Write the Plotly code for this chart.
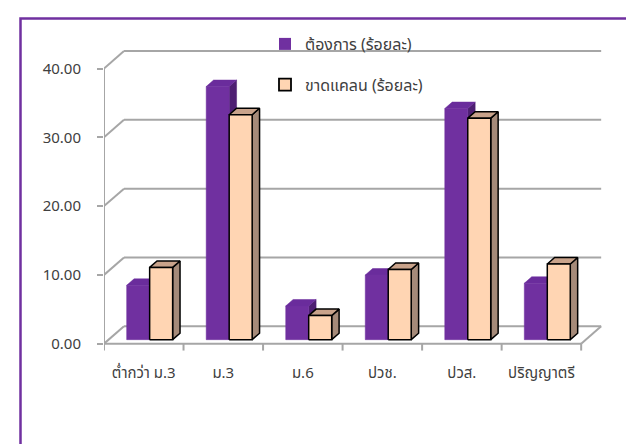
import plotly.graph_objects as go

# ---------------- data ----------------
categories = ["ต่ำกว่า ม.3", "ม.3", "ม.6", "ปวช.", "ปวส.", "ปริญญาตรี"]
want_pct = [7.9, 36.8, 4.9, 9.4, 33.6, 8.2]
short_pct = [10.5, 32.7, 3.5, 10.2, 32.2, 11.0]
series_names = ["ต้องการ (ร้อยละ)", "ขาดแคลน (ร้อยละ)"]
y_ticks = [0, 10, 20, 30, 40]
y_tick_labels = [f"{v:.2f}" for v in y_ticks]

# ---------------- style / geometry ----------------
W, H = 634, 444
ML, MR, MT, MB = 96, 33, 33, 98
PW, PH = W - ML - MR, H - MT - MB
XR = [0, 6.35]
YR = [-1.5, 44]
DX, DY = 0.2515, 2.54          # wall depth (axis units)
F0, FT = 0.23, 0.37            # bar front depth fraction, bar thickness fraction
BAR_LEFT, BAR_W = 0.285, 0.289
GRID = "#A6A6A6"
FONT = "Noto Sans Thai, Noto Sans, Tahoma, sans-serif"

styles = [
    dict(front="#7030A0", top="#6A2C9C", side="#4E1F72", line=None),
    dict(front="#FFD5B3", top="#C9A38B", side="#A58A79", line="#000000"),
]


def xp(px):
    return (px - ML) / PW


def yp(px):
    return (H - MB - px) / PH


def poly_trace(polys, fill, line_color, line_width):
    xs, ys = [], []
    for p in polys:
        for (x, y) in p:
            xs.append(x)
            ys.append(y)
        xs.append(p[0][0])
        ys.append(p[0][1])
        xs.append(None)
        ys.append(None)
    return go.Scatter(
        x=xs, y=ys, mode="lines", fill="toself", fillcolor=fill,
        line=dict(color=line_color if line_color else fill, width=line_width),
        hoverinfo="skip", showlegend=False,
    )


def seg_trace(segs, color, width):
    xs, ys = [], []
    for (a, b) in segs:
        xs += [a[0], b[0], None]
        ys += [a[1], b[1], None]
    return go.Scatter(x=xs, y=ys, mode="lines", line=dict(color=color, width=width),
                      hoverinfo="skip", showlegend=False)


fig = go.Figure()

# walls / grid
n = len(categories)
segs = [((0, 0), (0, y_ticks[-1])), ((0, 0), (n, 0)), ((n, 0), (n + DX, DY))]
for v in y_ticks:
    segs.append(((0, v), (DX, v + DY)))
    segs.append(((DX, v + DY), (n + DX, v + DY)))
fig.add_trace(seg_trace(segs, GRID, 2))
fig.add_trace(seg_trace([((i, 0), (i, -1.0)) for i in range(n + 1)], GRID, 2))

# 3D bars
bdx, bdy = FT * DX, FT * DY
yb = F0 * DY
for s, vals in enumerate([want_pct, short_pct]):
    st = styles[s]
    fronts, tops, sides = [], [], []
    for i, v in enumerate(vals):
        xl = i + BAR_LEFT + s * BAR_W
        xr = xl + BAR_W
        t = yb + v
        fronts.append([(xl, yb), (xr, yb), (xr, t), (xl, t)])
        tops.append([(xl, t), (xr, t), (xr + bdx, t + bdy), (xl + bdx, t + bdy)])
        sides.append([(xr, yb), (xr + bdx, yb + bdy), (xr + bdx, t + bdy), (xr, t)])
    lw = 1.5 if st["line"] else 0.5
    fig.add_trace(poly_trace(sides, st["side"], st["line"] or st["side"], lw))
    fig.add_trace(poly_trace(tops, st["top"], st["line"] or st["top"], lw))
    fig.add_trace(poly_trace(fronts, st["front"], st["line"] or st["front"], lw))

# legend proxies
for s, name in enumerate(series_names):
    st = styles[s]
    fig.add_trace(go.Scatter(
        x=[None], y=[None], mode="markers", name=name, legendgroup=f"g{s}",
        marker=dict(symbol="square", size=12, color=st["front"],
                    line=dict(color=st["line"] or st["front"], width=1.8 if st["line"] else 0)),
    ))

# border
fig.add_shape(type="rect", xref="paper", yref="paper",
              x0=xp(12.5), x1=xp(629.5), y0=yp(470), y1=yp(10.5),
              line=dict(color="#7030A0", width=2.5), layer="above")

fig.update_layout(
    width=W, height=H,
    margin=dict(l=ML, r=MR, t=MT, b=MB),
    paper_bgcolor="white", plot_bgcolor="white",
    font=dict(family=FONT, size=15, color="#404040"),
    showlegend=True,
    legend=dict(x=xp(257), y=yp(19), xanchor="left", yanchor="top",
                bgcolor="rgba(0,0,0,0)", tracegroupgap=17,
                font=dict(size=16, color="#404040")),
    xaxis=dict(range=XR, tickvals=[i + 0.5 for i in range(n)], ticktext=categories,
               ticks="", showgrid=False, zeroline=False, showline=False,
               tickfont=dict(size=15, color="#404040"), ticklabelstandoff=8, fixedrange=True),
    yaxis=dict(range=YR, tickvals=y_ticks, ticktext=y_tick_labels,
               ticks="outside", ticklen=6, tickwidth=2, tickcolor=GRID,
               showgrid=False, zeroline=False, showline=False,
               tickfont=dict(size=15, color="#404040"), ticklabelstandoff=13, fixedrange=True),
)

fig.write_html("out.html")
